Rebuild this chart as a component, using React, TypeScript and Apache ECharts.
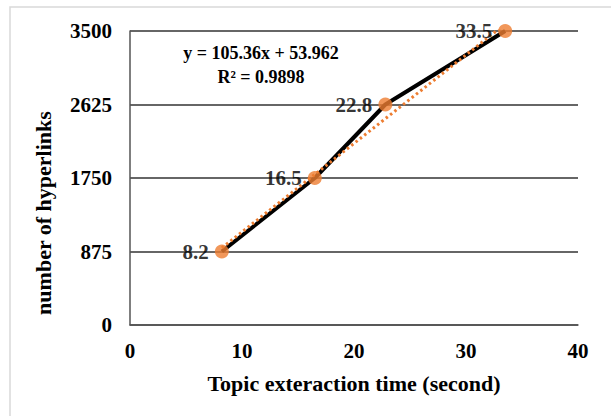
import React, { useEffect, useRef } from "react";
import * as echarts from "echarts";

const times = [8.2, 16.5, 22.8, 33.5];
const hyperlinks = [875, 1750, 2625, 3500];
const trendX = [8.2, 33.5];
const trendY = [918, 3584];
const yTicks = [0, 875, 1750, 2625, 3500];
const equationLines = ["y = 105.36x + 53.962", "R² = 0.9898"];
const yTitle = "number of hyperlinks";
const xTitle = "Topic exteraction time (second)";

const FONT = "'Liberation Serif', 'Times New Roman', serif";

export default function App() {
  const ref = useRef<HTMLDivElement>(null);
  useEffect(() => {
    if (!ref.current) return;
    const chart = echarts.init(ref.current, undefined, { renderer: "svg" });
    const pts = times.map((t, i) => [t, hyperlinks[i]]);
    const trend = trendX.map((t, i) => [t, trendY[i]]);
    chart.setOption({
      animation: false,
      backgroundColor: "#fff",
      grid: { left: 130, right: 33, top: 31, bottom: 91 },
      xAxis: {
        type: "value",
        min: 0,
        max: 40,
        interval: 10,
        name: xTitle,
        nameLocation: "middle",
        nameGap: 47,
        nameTextStyle: { fontFamily: FONT, fontWeight: "bold", fontSize: 22, color: "#000" },
        axisLine: { show: true, lineStyle: { color: "#555", width: 1.5 } },
        axisTick: { show: false },
        splitLine: { show: false },
        axisLabel: { fontFamily: FONT, fontWeight: "bold", fontSize: 21, color: "#000", margin: 15 },
      },
      yAxis: {
        type: "value",
        min: 0,
        max: 3500,
        interval: 875,
        axisLine: { show: true, lineStyle: { color: "#555", width: 1.5 } },
        axisTick: { show: false },
        splitLine: { show: true, lineStyle: { color: "#333", width: 1.5 } },
        axisLabel: {
          fontFamily: FONT,
          fontWeight: "bold",
          fontSize: 21,
          color: "#000",
          margin: 18,
          formatter: (v: number) => (yTicks.includes(v) ? String(v) : ""),
        },
      },
      graphic: [
        {
          type: "rect",
          shape: { x: 10, y: 7, width: 640, height: 440 },
          style: { fill: "none", stroke: "#d9d9d9", lineWidth: 1.5 },
          silent: true,
          z: -1,
        },
        {
          type: "text",
          x: 43,
          y: 213,
          rotation: Math.PI / 2,
          style: {
            text: yTitle,
            fontFamily: FONT,
            fontWeight: "bold",
            fontSize: 22,
            fill: "#000",
            textAlign: "center",
            textVerticalAlign: "middle",
          },
        },
        {
          type: "text",
          x: 261,
          y: 53,
          style: {
            text: equationLines[0],
            fontFamily: FONT,
            fontWeight: "bold",
            fontSize: 18,
            fill: "#000",
            textAlign: "center",
            textVerticalAlign: "middle",
          },
        },
        {
          type: "text",
          x: 261,
          y: 77,
          style: {
            text: equationLines[1],
            fontFamily: FONT,
            fontWeight: "bold",
            fontSize: 18,
            fill: "#000",
            textAlign: "center",
            textVerticalAlign: "middle",
          },
        },
      ],
      series: [
        {
          type: "line",
          data: pts,
          showSymbol: false,
          symbol: "none",
          lineStyle: { color: "#000", width: 4 },
          z: 2,
        },
        {
          type: "line",
          data: trend,
          showSymbol: false,
          symbol: "none",
          clip: true,
          lineStyle: { color: "#ED7D31", width: 3, type: [2.5, 3] },
          z: 3,
        },
        {
          type: "scatter",
          data: pts,
          symbol: "circle",
          symbolSize: 14,
          itemStyle: { color: "#ED7D31" },
          z: 4,
          label: {
            show: true,
            position: "left",
            distance: 6,
            formatter: (p: any) => String(p.value[0]),
            fontFamily: FONT,
            fontWeight: "bold",
            fontSize: 21,
            color: "#000",
          },
        },
      ],
    });
    return () => chart.dispose();
  }, []);
  return (
    <div
      ref={ref}
      style={{ position: "fixed", left: 0, top: 0, width: 611, height: 416 }}
    />
  );
}
